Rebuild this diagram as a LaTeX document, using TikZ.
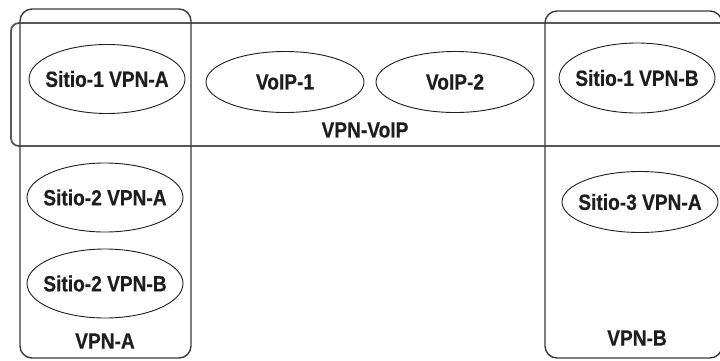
\documentclass[tikz,border=0pt]{standalone}
\usepackage{fontspec}
\setmainfont{Liberation Sans}[FakeStretch=0.87,BoldFeatures={FakeBold=0.5}]
\usetikzlibrary{shapes.geometric,positioning}
\definecolor{ink}{HTML}{1E1E1E}
\definecolor{frame}{HTML}{3A3A3A}
\tikzset{
  every node/.style={font=\fontsize{22}{25}\selectfont\bfseries,text=ink},
  site/.style={ellipse,draw=ink,line width=0.9pt,inner xsep=-16pt,inner ysep=0pt,minimum width=156pt,minimum height=69pt},
  voip/.style={site,minimum width=158pt,minimum height=61pt},
  group/.style={draw=frame,line width=1.4pt,rounded corners=12pt},
  vgroup/.style={draw=frame!85,line width=1.8pt,rounded corners=8pt},
  grplabel/.style={inner sep=1pt},
}
\begin{document}
\begin{tikzpicture}[x=1pt,y=-1pt]
\useasboundingbox (0,0) rectangle (720,360);
\clip (0,0) rectangle (720,360);

% groups
\draw[vgroup] (11,23) rectangle (740,146);
\draw[group] (20,9) rectangle (191,358);
\draw[group] (545,11) rectangle (722,358);

% VPN-VoIP row
\node[site] (s1a) at (107,79) {Sitio-1 VPN-A};
\node[voip] (voip1) at (285,82) {VoIP-1};
\node[voip] (voip2) at (455,82) {VoIP-2};
\node[site,minimum height=70pt] (s1b) at (637,78) {Sitio-1 VPN-B};
\node[grplabel] (lvoip) at (365,130) {VPN-VoIP};

% VPN-A column
\node[site] (s2a) at (105,197.5) {Sitio-2 VPN-A};
\node[site] (s2b) at (105,283.5) {Sitio-2 VPN-B};
\node[grplabel] (lA) at (105,341) {VPN-A};

% VPN-B column
\node[site,minimum height=61pt] (s3a) at (640,202) {Sitio-3 VPN-A};
\node[grplabel] (lB) at (637,338) {VPN-B};

\end{tikzpicture}
\end{document}
